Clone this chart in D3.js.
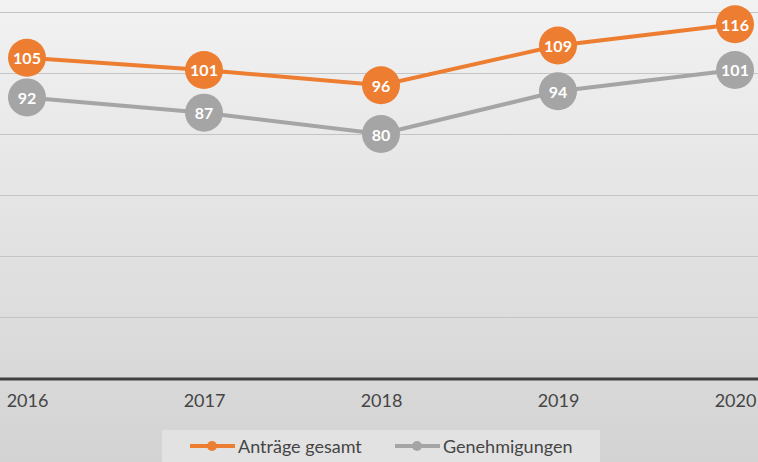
<!DOCTYPE html>
<html>
<head>
<meta charset="utf-8">
<script src="https://cdn.jsdelivr.net/npm/d3@7"></script>
<style>
body{margin:0;overflow:hidden;}
svg{display:block;font-family:Lato,"Open Sans",sans-serif;}
</style>
</head>
<body>
<script>
var years = ['2016','2017','2018','2019','2020'];
var antraege = [105,101,96,109,116];
var genehmigungen = [92,87,80,94,101];
var gridTicks = [20,40,60,80,100,120];
var seriesNames = ['Anträge gesamt','Genehmigungen'];
var seriesColors = ['#ed7d31','#a5a5a5'];

var W = 758, H = 462;

var svg = d3.select("body").append("svg").attr("width",W).attr("height",H);

var grad = svg.append("defs").append("linearGradient")
        .attr("id","bg").attr("x1","0").attr("y1","0").attr("x2","0").attr("y2","1");
grad.append("stop").attr("offset","0").attr("stop-color","#f2f2f2");
grad.append("stop").attr("offset","1").attr("stop-color","#d3d3d3");

svg.append("rect").attr("width",W).attr("height",H).attr("fill","url(#bg)");

var x = d3.scalePoint()
        .domain(years)
        .range([27, 735]);

var y = d3.scaleLinear()
        .domain([0,120])
        .range([378, 12]);

// gridlines
svg.selectAll("line.grid")
    .data(gridTicks)
    .enter().append("line")
            .attr("class","grid")
            .attr("x1",0).attr("x2",W)
            .attr("y1",function(d){return y(d)+0.5;})
            .attr("y2",function(d){return y(d)+0.5;})
            .attr("stroke","#c4c4c4")
            .attr("stroke-width",1);

// baseline
svg.append("line")
        .attr("x1",0).attr("x2",W)
        .attr("y1",y(0)+1).attr("y2",y(0)+1)
        .attr("stroke","#404040")
        .attr("stroke-width",3);

// x axis labels
var xAxis = d3.axisBottom(x).tickSize(0).tickPadding(13);
var gx = svg.append("g")
        .attr("transform","translate(0,"+(y(0)+3)+")")
        .call(xAxis);
gx.select(".domain").remove();
gx.selectAll("text")
        .attr("font-size","18px")
        .attr("font-family","Lato,'Open Sans',sans-serif")
        .attr("fill","#454545");

var line = d3.line()
        .x(function(d,i){return x(years[i]);})
        .y(function(d){return y(d);});

var allSeries = [genehmigungen, antraege];
var allColors = [seriesColors[1], seriesColors[0]];

allSeries.forEach(function(vals,k){
    var col = allColors[k];
    svg.append("path")
        .datum(vals)
        .attr("d",line)
        .attr("fill","none")
        .attr("stroke",col)
        .attr("stroke-width",4);

    var g = svg.append("g");
    g.selectAll("circle")
        .data(vals)
        .enter().append("circle")
                .attr("cx",function(d,i){return x(years[i]);})
                .attr("cy",function(d){return y(d);})
                .attr("r",19)
                .attr("fill",col);
    g.selectAll("text")
        .data(vals)
        .enter().append("text")
                .attr("x",function(d,i){return x(years[i]);})
                .attr("y",function(d){return y(d);})
                .attr("text-anchor","middle")
                .attr("dominant-baseline","central")
                .attr("font-size","16px")
                .attr("font-weight","bold")
                .attr("fill","#ffffff")
                .text(function(d){return d;});
});

// legend
svg.append("rect")
        .attr("x",162).attr("y",430)
        .attr("width",438).attr("height",32)
        .attr("fill","#e2e2e2");

var legX = [190, 395];
var leg = svg.selectAll("g.leg")
    .data(seriesNames)
    .enter().append("g")
            .attr("class","leg")
            .attr("transform",function(d,i){return "translate("+legX[i]+",446)";});
leg.append("line")
        .attr("x1",0).attr("x2",45).attr("y1",0).attr("y2",0)
        .attr("stroke",function(d,i){return seriesColors[i];})
        .attr("stroke-width",4);
leg.append("circle")
        .attr("cx",22).attr("cy",0).attr("r",5)
        .attr("fill",function(d,i){return seriesColors[i];});
leg.append("text")
        .attr("x",48).attr("y",0)
        .attr("dominant-baseline","central")
        .attr("font-size","18px")
        .attr("fill","#454545")
        .text(function(d){return d;});
</script>
</body>
</html>
